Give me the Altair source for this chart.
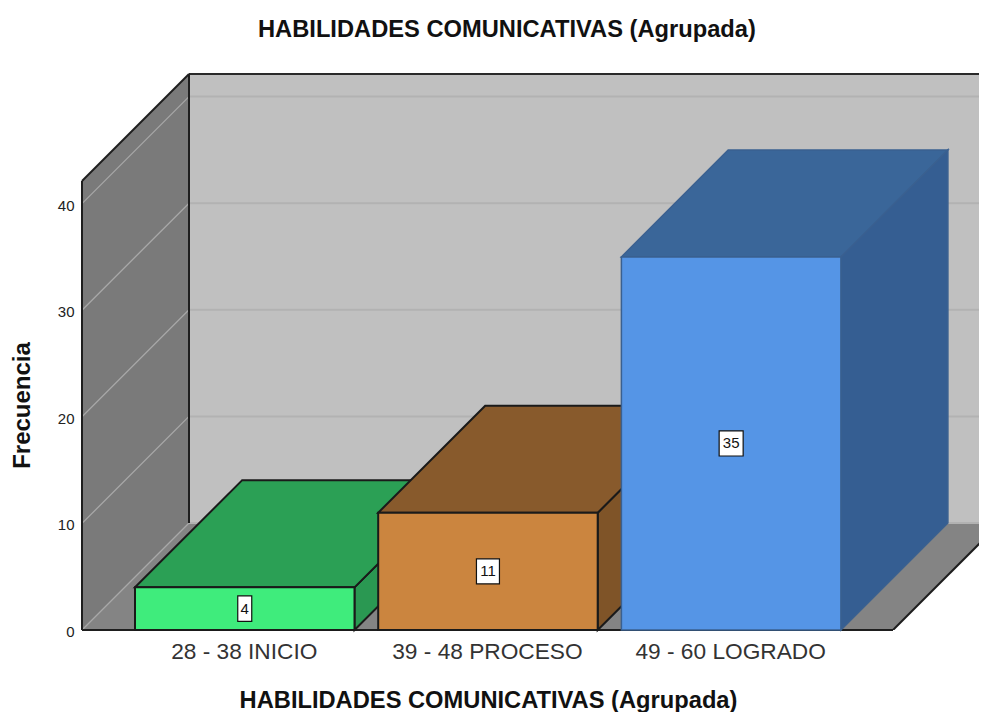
import altair as alt
import pandas as pd

categories = ["28 - 38 INICIO", "39 - 48 PROCESO", "49 - 60 LOGRADO"]
counts = [4, 11, 35]
front_colors = ["#3FEC7C", "#CB853F", "#5595E6"]
top_colors = ["#2BA055", "#885A2C", "#3A6699"]
side_colors = ["#2A9852", "#7F5428", "#355E92"]
edge_colors = ["#1A1A1A", "#1A1A1A", "#3A6090"]
y_ticks = [0, 10, 20, 30, 40]
TITLE = "HABILIDADES COMUNICATIVAS (Agrupada)"
FONT = "Liberation Sans"

W, H = 897, 556
UNIT = 10.66            # pixels per count
YMAX = H / UNIT
DX, DY = 107, 107 / UNIT  # depth of the 3D box
FLOOR = 811             # front width of the floor
BAR_W, BAR_STEP, BAR_START = 219.5, 243.2, 53
BOX_H = {4: 2.4, 11: 2.35, 35: 2.35}
BOX_W = {4: 14, 11: 23, 35: 24}

centers = [round(BAR_START + i * BAR_STEP + BAR_W / 2, 2) for i in range(3)]
label_expr = " : ".join(
    f"datum.value == {c} ? '{n}'" for c, n in zip(centers, categories)
) + " : ''"

x_axis = alt.Axis(
    values=centers, labelExpr=label_expr, grid=False, ticks=False, domain=False,
    labelFont=FONT, labelFontSize=22.7, labelColor="#333333", labelPadding=10.5,
    labelFlush=False, labelOverlap=False, labelLimit=400, labelOffset=-1,
    title=TITLE, titleFont=FONT, titleFontSize=23.7, titleFontWeight="bold",
    titleColor="#111111", titleX=406, titleY=70, titleAnchor="middle",
    titleBaseline="middle",
)
y_axis = alt.Axis(
    values=y_ticks, grid=False, ticks=False, domain=False,
    labelFont=FONT, labelFontSize=15, labelColor="#222222", labelPadding=8,
    labelFlush=False, labelOverlap=False, labelOffset=1.5,
    title="Frecuencia", titleFont=FONT, titleFontSize=24, titleFontWeight="bold",
    titleColor="#111111", titleX=-47.5, titleY=331, titleAnchor="middle",
)

xs = alt.Scale(domain=[0, W], nice=False, zero=False)
ys = alt.Scale(domain=[0, YMAX], nice=False, zero=False)
def X(f="x"): return alt.X(f"{f}:Q", scale=xs, axis=x_axis)
def Y(f="y"): return alt.Y(f"{f}:Q", scale=ys, axis=y_axis)
X2 = lambda f="x2": alt.X2(f"{f}:Q")
Y2 = lambda f="y2": alt.Y2(f"{f}:Q")

def vface(x0, x1, a0, a1, b0, b1, **kw):
    d = pd.DataFrame({"x": [x0, x1], "y": [a0, b0], "y2": [a1, b1]})
    return alt.Chart(d).mark_area(orient="vertical", **kw).encode(x=X(), y=Y(), y2=Y2())

def hface(y0, y1, a0, a1, b0, b1, **kw):
    d = pd.DataFrame({"y": [y0, y1], "x": [a0, b0], "x2": [a1, b1]})
    return alt.Chart(d).mark_area(orient="horizontal", **kw).encode(y=Y(), x=X(), x2=X2())

def seg(x0, y0, x1, y1, color, width=1.0, clip=False):
    d = pd.DataFrame({"x": [x0, x1], "y": [y0, y1]})
    return alt.Chart(d).mark_line(color=color, strokeWidth=width, clip=clip).encode(x=X(), y=Y())

wall_df = pd.DataFrame({"x": [DX], "x2": [W], "y": [DY], "y2": [YMAX]})
wall = alt.Chart(wall_df).mark_rect(color="#C0C0C0").encode(x=X(), x2=X2(), y=Y(), y2=Y2())

layers = [wall]
layers.append(vface(0, DX, 0, YMAX - DY, DY, YMAX, fill="#7A7A7A"))
layers.append(hface(0, DY, 0, FLOOR, DX, FLOOR + DX, fill="#848484", clip=True))
for v in y_ticks:
    layers.append(seg(DX, v + DY, W, v + DY, "#B2B2B2", 2))
    layers.append(seg(0, v, DX, v + DY, "#A8A8A8", 1.3))
layers += [
    seg(0, YMAX - DY, DX, YMAX, "#1E1E1E", 2),
    seg(DX, YMAX, W, YMAX, "#2A2A2A", 2),
    seg(0, 0, 0, YMAX - DY, "#1E1E1E", 2),
    seg(DX, DY, DX, YMAX, "#1E1E1E", 2),
    seg(0, 0, FLOOR, 0, "#1E1E1E", 2),
    seg(FLOOR, 0, FLOOR + DX, DY, "#1E1E1E", 2, clip=True),
]

for i, v in enumerate(counts):
    x0 = BAR_START + i * BAR_STEP
    x1 = x0 + BAR_W
    e = edge_colors[i]
    sw = 2 if i < 2 else 1.5
    layers.append(vface(x1, x1 + DX, 0, v, DY, v + DY, fill=side_colors[i], stroke=e, strokeWidth=sw))
    layers.append(hface(v, v + DY, x0, x1, x0 + DX, x1 + DX, fill=top_colors[i], stroke=e, strokeWidth=sw))
    front = pd.DataFrame({"x": [x0], "x2": [x1], "y": [0], "y2": [v]})
    layers.append(alt.Chart(front).mark_rect(fill=front_colors[i], stroke=e, strokeWidth=sw).encode(
        x=X(), x2=X2(), y=Y(), y2=Y2()))
    c = (x0 + x1) / 2
    box = pd.DataFrame({"x": [c - BOX_W[v] / 2], "x2": [c + BOX_W[v] / 2],
                        "y": [v / 2 - BOX_H[v] / 2], "y2": [v / 2 + BOX_H[v] / 2]})
    layers.append(alt.Chart(box).mark_rect(fill="white", stroke="#111111", strokeWidth=1.2).encode(
        x=X(), x2=X2(), y=Y(), y2=Y2()))
    lab = pd.DataFrame({"x": [c], "y": [v / 2], "t": [str(v)]})
    layers.append(alt.Chart(lab).mark_text(font=FONT, fontSize=15, color="#111111", baseline="middle", align="center").encode(
        x=X(), y=Y(), text="t:N"))

chart = alt.layer(*layers).properties(
    width=W, height=H,
    title=alt.TitleParams(TITLE, font=FONT, fontSize=23.7, fontWeight="bold", color="#111111",
                          anchor="start", offset=28, dx=247.5),
    autosize=alt.AutoSizeParams(type="none"),
    padding={"left": 74, "top": 66, "right": 0, "bottom": 82},
    background="white",
).configure_view(stroke=None)

chart.save("out.html", embed_options={"renderer": "svg", "actions": False})
